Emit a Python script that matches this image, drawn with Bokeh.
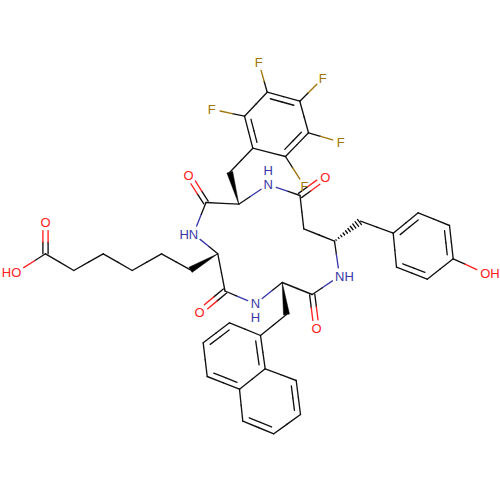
from bokeh.plotting import figure
from bokeh.models import Range1d
from bokeh.core.properties import value
from bokeh.embed import file_html
from bokeh.resources import INLINE
import math

atom_names = ["Fc1","Fc2","Fc3","Fc4","Fc5","Fc6","F1","F2","F3","F4","F5",
              "Pch2","Pa","Pc","Po","N1","Tc","To","Tb","Ta","Tch2",
              "Y1","Y2","Y3","Y4","Y5","Y6","YO","N2","Nc","NO","Na","Nch2",
              "N3","Kc","KO","Ka","N4","K1","K2","K3","K4","K5","K6","CO","COH",
              "A1","A2","A3","A4","A4a","A5","A6","A7","A8","A8a"]
atom_x = [266.7,299.3,308.0,285.0,252.3,244.0,258.3,322.3,340.3,304.0,211.3,
          229.3,238.3,205.5,188.0,267.7,299.5,324.7,303.3,334.0,360.0,
          392.7,417.7,449.0,452.7,426.7,396.0,484.0,339.0,311.7,316.0,281.7,286.0,
          255.0,224.5,199.0,217.3,193.0,190.0,161.0,131.7,102.7,73.3,45.0,45.0,16.0,
          260.0,229.0,202.7,206.7,239.0,242.3,273.3,300.0,295.7,264.7]
atom_y = [91.7,100.7,132.3,156.0,147.7,115.7,61.7,77.7,141.7,185.7,108.7,
          171.7,203.7,202.0,174.7,184.0,195.0,176.7,228.3,240.7,220.7,
          232.7,212.3,225.0,258.3,278.7,266.7,272.7,275.7,294.0,328.0,282.0,314.0,
          303.3,290.5,311.7,253.3,233.5,269.3,253.3,270.0,253.3,270.0,253.3,221.7,271.7,
          335.0,322.3,342.3,376.0,388.7,420.7,433.3,414.0,380.0,368.3]
atom_elem = ["C"]*6+["F"]*5+["C","C","C","O","N","C","O","C","C","C",
             "C","C","C","C","C","C","O","N","C","O","C","C",
             "N","C","O","C","N","C","C","C","C","C","C","O","O"]+["C"]*10

single_bonds = [("Fc2","Fc3"),("Fc4","Fc5"),("Fc6","Fc1"),
                ("Fc1","F1"),("Fc2","F2"),("Fc3","F3"),("Fc4","F4"),("Fc6","F5"),
                ("Fc5","Pch2"),("Pa","Pc"),("Pa","N1"),("N1","Tc"),("Tc","Tb"),("Tb","Ta"),
                ("Ta","N2"),("Tch2","Y1"),("Y2","Y3"),("Y4","Y5"),("Y6","Y1"),("Y4","YO"),
                ("N2","Nc"),("Nc","Na"),("Na","N3"),("N3","Kc"),("Kc","Ka"),("Ka","N4"),("N4","Pc"),
                ("K1","K2"),("K2","K3"),("K3","K4"),("K4","K5"),("K5","K6"),("K6","COH"),
                ("Nch2","A1"),("A1","A2"),("A3","A4"),("A4a","A5"),("A6","A7"),("A8","A8a"),("A4a","A8a")]
ring_double_bonds = [("Fc1","Fc2"),("Fc3","Fc4"),("Fc5","Fc6"),
                     ("Y1","Y2"),("Y3","Y4"),("Y5","Y6"),
                     ("A1","A8a"),("A2","A3"),("A4","A4a"),("A5","A6"),("A7","A8")]
carbonyl_bonds = [("Pc","Po"),("Tc","To"),("Nc","NO"),("Kc","KO"),("K6","CO")]
wedge_bonds = [("Pa","Pch2"),("Na","Nch2"),("Ka","K1")]
hash_bonds = [("Ta","Tch2")]

labels = ["F","F","F","F","F","O","O","O","O","O","HO","OH","HN","N","H","N","H","NH"]
label_x = [258.3,322.3,340.3,304.0,211.3,188.0,324.7,316.0,199.0,45.0,11.0,489.5,188.3,267.7,267.7,255.0,255.0,344.0]
label_y = [61.7,77.7,141.7,185.7,108.7,174.7,176.7,328.0,311.7,221.7,271.7,272.7,233.5,184.0,170.0,303.3,316.7,275.7]
label_elem = ["F"]*5+["O"]*7+["N"]*6

COL = {"C":"#111111","N":"#3838A8","O":"#FF2020","F":"#A07408"}
pos = {n:(x,y) for n,x,y in zip(atom_names,atom_x,atom_y)}
elem = dict(zip(atom_names,atom_elem))
rings = [["Fc1","Fc2","Fc3","Fc4","Fc5","Fc6"],["Y1","Y2","Y3","Y4","Y5","Y6"],
         ["A1","A2","A3","A4","A4a","A8a"],["A4a","A5","A6","A7","A8","A8a"]]

p = figure(width=500, height=500, output_backend="svg", toolbar_location=None,
           x_range=Range1d(0,500), y_range=Range1d(500,0), min_border=0,
           outline_line_color=None, background_fill_color="white",
           border_fill_color="white")
p.axis.visible = False
p.grid.visible = False
p.styles = {"position":"absolute","left":"0px","top":"0px"}

sx0,sy0,sx1,sy1,sc=[],[],[],[],[]
def add(a,b,ea,eb):
    mx,my=(a[0]+b[0])/2,(a[1]+b[1])/2
    for s,e,c in ((a,(mx,my),ea),((mx,my),b,eb)):
        sx0.append(s[0]);sy0.append(s[1]);sx1.append(e[0]);sy1.append(e[1]);sc.append(COL[c])
def trim(n,o):
    a,b=pos[n],pos[o]
    if elem[n]=="C": return a
    t=8.5/math.dist(a,b)
    return (a[0]+(b[0]-a[0])*t,a[1]+(b[1]-a[1])*t)
def geom(f,t):
    a,b=trim(f,t),trim(t,f)
    dx,dy=b[0]-a[0],b[1]-a[1]; L=math.hypot(dx,dy)
    return a,b,dx,dy,-dy/L,dx/L

for f,t in single_bonds:
    a,b,*_=geom(f,t)
    add(a,b,elem[f],elem[t])
for f,t in carbonyl_bonds:
    a,b,dx,dy,nx,ny=geom(f,t)
    o=2.6
    add((a[0]+nx*o,a[1]+ny*o),(b[0]+nx*o,b[1]+ny*o),elem[f],elem[t])
    add((a[0]-nx*o,a[1]-ny*o),(b[0]-nx*o,b[1]-ny*o),elem[f],elem[t])
for f,t in ring_double_bonds:
    a,b,dx,dy,nx,ny=geom(f,t)
    add(a,b,elem[f],elem[t])
    ring=[r for r in rings if f in r and t in r][0]
    cx=sum(pos[n][0] for n in ring)/6; cy=sum(pos[n][1] for n in ring)/6
    mx,my=(a[0]+b[0])/2,(a[1]+b[1])/2
    sg=1 if (cx-mx)*nx+(cy-my)*ny>0 else -1
    o=5.5*sg; tr=0.14
    add((a[0]+dx*tr+nx*o,a[1]+dy*tr+ny*o),(b[0]-dx*tr+nx*o,b[1]-dy*tr+ny*o),elem[f],elem[t])
wx,wy=[],[]
for f,t in wedge_bonds:
    a,b,dx,dy,nx,ny=geom(f,t)
    w=3.0
    wx.append([a[0],b[0]+nx*w,b[0]-nx*w]); wy.append([a[1],b[1]+ny*w,b[1]-ny*w])
for f,t in hash_bonds:
    a,b,dx,dy,nx,ny=geom(f,t)
    n=10
    for i in range(n):
        s=(i+0.6)/n; w=3.4*s
        c=(a[0]+dx*s,a[1]+dy*s)
        sx0.append(c[0]+nx*w);sy0.append(c[1]+ny*w);sx1.append(c[0]-nx*w);sy1.append(c[1]-ny*w);sc.append(COL["C"])

p.segment(sx0,sy0,sx1,sy1,line_color=sc,line_width=1.35,line_cap="round")
p.patches(wx,wy,fill_color="#000000",line_color="#000000",line_width=0.5)
p.text(label_x,label_y,text=labels,text_color=[COL[e] for e in label_elem],
       text_font=value("Liberation Sans"),text_font_size="13px",
       text_align="center",text_baseline="middle")

open("out.html","w").write(file_html(p,INLINE))
